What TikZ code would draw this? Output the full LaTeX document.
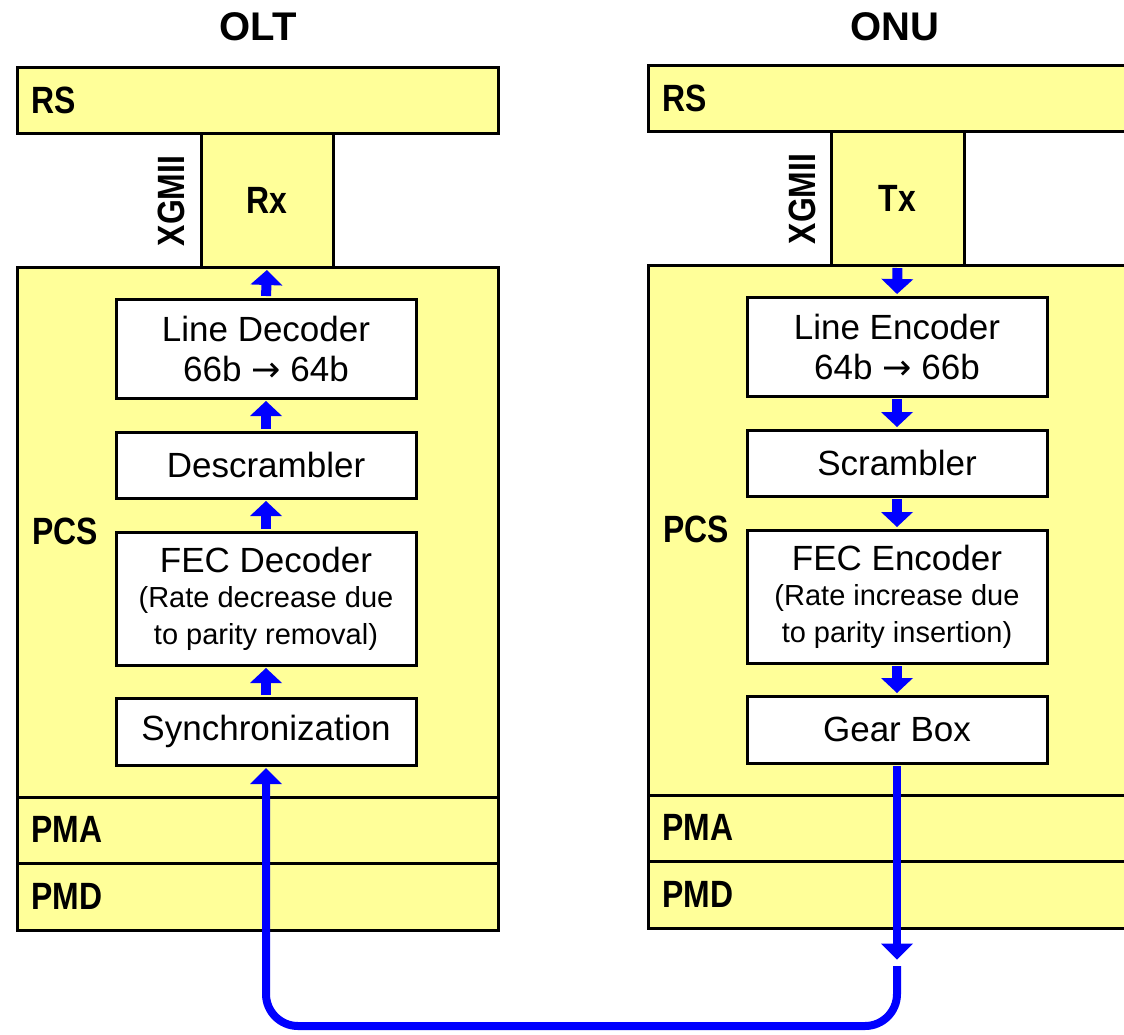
\documentclass[tikz,border=0pt]{standalone}
\usepackage{fontspec}
\usepackage{graphicx}
\setmainfont{Liberation Sans}
\newfontfamily\arrowfont{DejaVu Sans}
\usetikzlibrary{arrows.meta}
\definecolor{layerfill}{HTML}{FFFF99}
\newcommand\narrowtxt[1]{\scalebox{0.84}[1]{#1}}
\newcommand\rarr{{\arrowfont →}}
\tikzset{
  layer/.style={draw=black, line width=3pt, fill=layerfill, inner sep=0pt},
  inbox/.style={draw=black, line width=3pt, fill=white, inner sep=0pt, minimum width=300pt, align=center, font=\fontsize{35}{40}\selectfont},
  lab/.style={inner sep=0pt, anchor=west, font=\bfseries\fontsize{38}{40}\selectfont},
  ttl/.style={inner sep=0pt, anchor=base, font=\bfseries\fontsize{40}{40}\selectfont},
  smallarr/.style={draw=blue, line width=10pt, shorten >=1.5pt, shorten <=1.5pt, -{Triangle[width=32pt,length=15pt,line width=0pt]}},
  bigarr/.style={draw=blue, line width=8pt, shorten >=1.5pt, -{Triangle[width=32pt,length=16pt,line width=0pt]}}
}
\begin{document}
\begin{tikzpicture}[x=1pt,y=-1pt]
\useasboundingbox (0,0) rectangle (1124,1034);
\clip (0,0) rectangle (1124,1034);
% titles
\node[ttl] (olt) at (258,40) {OLT};
\node[ttl] (onu) at (895,40) {ONU};
% ---------- OLT ----------
\node[layer, minimum width=481pt, minimum height=66pt] (rsL) at (257.5,100) {};
\node[layer, minimum width=481pt, minimum height=530pt] (pcsL) at (257.5,532) {};
\node[layer, minimum width=481pt, minimum height=66pt] (pmaL) at (257.5,830) {};
\node[layer, minimum width=481pt, minimum height=67pt] (pmdL) at (257.5,896.5) {};
\node[layer, minimum width=132pt, minimum height=134pt, font=\bfseries\fontsize{38}{40}\selectfont] (rx) at (267,200) {\narrowtxt{Rx}};
\node[lab] (rsLl) at (31,100) {\narrowtxt{RS}};
\node[lab] (pcsLl) at (32,531) {\narrowtxt{PCS}};
\node[lab] (pmaLl) at (31,829) {\narrowtxt{PMA}};
\node[lab] (pmdLl) at (31,896) {\narrowtxt{PMD}};
\node[inner sep=0pt, rotate=90, font=\bfseries\fontsize{38}{40}\selectfont] (xgL) at (171,201) {\narrowtxt{XGMII}};
% ---------- ONU ----------
\node[layer, minimum width=492pt, minimum height=66pt] (rsR) at (894,98) {};
\node[layer, minimum width=492pt, minimum height=530pt] (pcsR) at (894,530) {};
\node[layer, minimum width=492pt, minimum height=66pt] (pmaR) at (894,828) {};
\node[layer, minimum width=492pt, minimum height=67pt] (pmdR) at (894,894.5) {};
\node[layer, minimum width=133pt, minimum height=134pt, font=\bfseries\fontsize{38}{40}\selectfont] (tx) at (897.5,198) {\narrowtxt{Tx}};
\node[lab] (rsRl) at (662,98) {\narrowtxt{RS}};
\node[lab] (pcsRl) at (663,529) {\narrowtxt{PCS}};
\node[lab] (pmaRl) at (662,827) {\narrowtxt{PMA}};
\node[lab] (pmdRl) at (662,894) {\narrowtxt{PMD}};
\node[inner sep=0pt, rotate=90, font=\bfseries\fontsize{38}{40}\selectfont] (xgR) at (802,199) {\narrowtxt{XGMII}};
% inner boxes OLT
\node[inbox, minimum height=99pt] (ldec) at (266,348.5) {Line Decoder\\66b \rarr{} 64b};
\node[inbox, minimum height=66pt] (desc) at (266,465) {Descrambler};
\node[inbox, minimum height=133pt] (fecd) at (266,598.5) {\raisebox{-4pt}{FEC Decoder}\\[-1pt]{\fontsize{29}{33}\selectfont (Rate decrease due}\\[-3pt]{\fontsize{29}{33}\selectfont to parity removal)}};
\node[inbox, minimum height=67pt] (sync) at (266,731.5) {Synchronization};
% inner boxes ONU
\node[inbox, minimum height=99pt] (lenc) at (897,346.5) {Line Encoder\\64b \rarr{} 66b};
\node[inbox, minimum height=66pt] (scr) at (897,463) {Scrambler};
\node[inbox, minimum height=133pt] (fece) at (897,596.5) {\raisebox{-4pt}{FEC Encoder}\\[-1pt]{\fontsize{29}{33}\selectfont (Rate increase due}\\[-3pt]{\fontsize{29}{33}\selectfont to parity insertion)}};
\node[inbox, minimum height=67pt] (gear) at (897,729.5) {Gear Box};
% small arrows OLT (upwards)
\draw[smallarr] (ldec.north) -- (rx.south);
\draw[smallarr] (desc.north) -- (ldec.south);
\draw[smallarr] (fecd.north) -- (desc.south);
\draw[smallarr] (sync.north) -- (fecd.south);
% small arrows ONU (downwards)
\draw[smallarr] (tx.south) -- (lenc.north);
\draw[smallarr] (lenc.south) -- (scr.north);
\draw[smallarr] (scr.south) -- (fece.north);
\draw[smallarr] (fece.south) -- (gear.north);
% big link
\coordinate (gtip) at (897,961);
\coordinate (gback) at (897,966);
\coordinate (bot) at (266,1026);
\draw[bigarr, shorten <=1.5pt] (gear.south) -- (gtip);
\draw[bigarr, rounded corners=32pt] (gback) -- (gback |- bot) -- (sync.south |- bot) -- (sync.south);
\end{tikzpicture}
\end{document}
